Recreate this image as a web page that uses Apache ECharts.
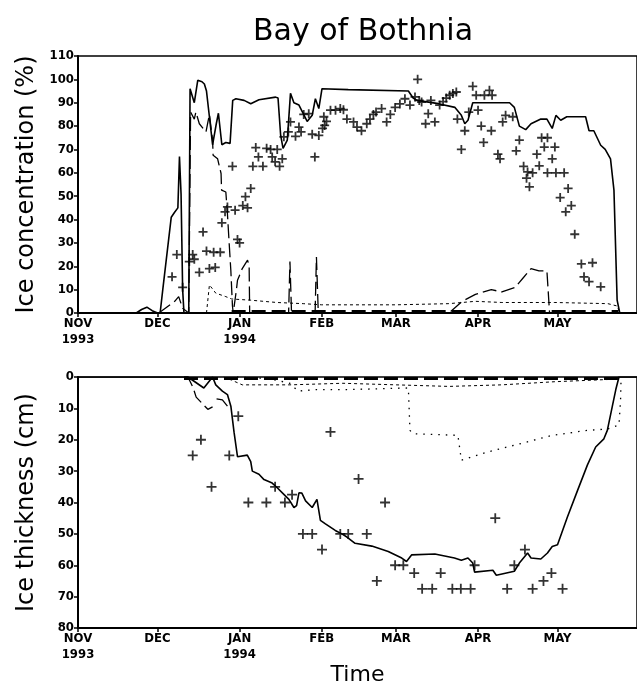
<!DOCTYPE html>
<html>
<head>
<meta charset="utf-8">
<script src="https://cdn.jsdelivr.net/npm/echarts@6/dist/echarts.min.js"></script>
<style>
  html, body { margin: 0; padding: 0; background: #fff; }
  #main { width: 637px; height: 687px; }
</style>
</head>
<body>
<div id="main"></div>
<script>
// x = days since 1 Nov 1993
var monthStarts = [0, 30, 61, 92, 120, 151, 181];
var monthLabels = ['NOV\n1993', 'DEC', 'JAN\n1994', 'FEB', 'MAR', 'APR', 'MAY'];
var concTicks = [0, 10, 20, 30, 40, 50, 60, 70, 80, 90, 100, 110];
var thickTicks = [0, 10, 20, 30, 40, 50, 60, 70, 80];

// ice concentration (%)
var concModel = [[0,0],[22,0],[24,1.5],[26,2.5],[28,1],[30,0],[31,0],[32,10],[35.2,41],[36.4,43],[37.7,45],[38.3,67],[38.9,51],[39.5,10],[40,0],[41.8,0],[42.3,96],[43.9,90],[45.2,99.6],[46.8,99],[47.7,98],[48.5,95],[49.3,87],[50,87],[50.8,72],[52.2,81],[53,85.5],[54.3,72],[55.8,73],[57.4,72.6],[58.4,91],[59.6,91.7],[62.7,91],[65.2,89.6],[68.3,91.3],[74.6,92.4],[75.5,92],[76.5,76],[77.4,70.5],[79,74],[80.2,94],[81.5,90],[83.4,89],[86.5,82],[88.4,84.6],[89.6,91.7],[90.9,87.5],[92.1,96],[102,95.6],[124.7,95],[126.5,92],[128,91],[136,89.6],[142.3,88],[144.7,84.6],[146,81],[147.2,82.5],[149,90],[162.9,90],[164.7,88],[166.6,80],[169,78.5],[171,81],[174.7,83],[177,83],[179,79],[180.4,84.6],[182.2,82.5],[184.5,84],[188.5,84],[191.6,84],[192.9,78],[194.7,78],[197.3,71.8],[199,70],[201,66],[202.3,52.6],[203.5,5.5],[204.5,0],[211,0]];
var concDash = [[30.5,0],[36.5,5],[38,7],[39.5,2],[41.8,0],[42.5,86],[43.9,83],[44.5,86],[45.8,81],[48.3,77.5],[49.6,85],[50.8,74],[51,67.5],[52.7,66],[54,59.7],[54.2,52.6],[55.8,51.8],[56.4,42.6],[57,31],[57.7,18],[58.3,3],[58.6,0],[59.8,10],[60.2,14],[62,19],[64,22.6],[64.6,20],[64.8,0],[79.5,0],[80,22],[80.6,0],[89.5,0],[90,24],[90.7,0],[140,0],[145,5],[150,8],[156,10],[160,9],[165,11],[168,15],[171,19],[174,18],[177,18],[178,0],[211,0]];
var concDotted = [[48.5,0],[49.6,12],[51,10],[52,8.5],[55.8,7],[58,6],[65,5.5],[75,4.5],[85,4],[92,3.5],[120,3.5],[140,4],[150,5],[160,4.5],[180,4.5],[200,4],[203.5,3],[204.5,0]];
var concFloor = [[58,0.6],[204,0.6]];
var concObs = [[35.5,15.5],[37.3,25],[39.5,11],[42,22],[43.3,25],[43.9,23],[45.8,17.4],[47.2,34.7],[48.5,26.5],[49.6,19],[51.2,26],[51.8,19.5],[53.7,26],[54.3,38.6],[55.5,43.3],[56.4,45.4],[58.3,62.8],[59.3,44],[60.2,31.5],[61,30],[62.2,46],[63.2,49.8],[64,45],[65.2,53.3],[66,62.8],[67.1,70.8],[68.1,66.8],[69.8,62.8],[71.2,70.5],[72.7,70],[73.3,66.8],[74.4,64.7],[75.2,70],[76.1,62.8],[77.1,66],[77.7,75.4],[79.4,77.5],[80.2,81.8],[82.1,75.6],[83.4,79.6],[84.2,77.5],[85.2,85],[87.1,85.3],[88.4,76.5],[89.4,66.8],[90.9,76],[92.3,79],[93.1,80.3],[92.8,84],[93.8,82],[95.3,86.8],[97.2,86.8],[99,87.5],[100.2,87],[101.5,83],[104,81.8],[105.3,79.6],[107,78],[109,81],[110.2,83],[111.5,85],[112.5,86],[114.6,87.5],[116.5,81.8],[117.9,85],[119.7,88],[121.5,89.5],[123.4,91.7],[125.3,89],[127.2,92.5],[128.2,100],[128.8,91],[129.7,90.3],[131.2,81],[132.2,85.3],[133.2,91],[134.7,81.8],[136.5,89],[137.8,90.5],[139,92],[140.3,93.2],[141.5,94],[142.8,94.6],[143.2,83],[144.7,70],[146,78],[147.5,86],[149,97],[150.3,93.2],[151,86.8],[152.2,80],[153.1,73],[153.4,93.2],[155.3,95.3],[156.3,93.2],[156,78],[158.5,68],[159.3,66],[160.3,81.8],[161.4,84.6],[164.1,84],[165.4,69.4],[166.6,74],[168.2,62.8],[169.3,57.7],[169.7,60.4],[170.4,54],[171.6,60],[173.2,68],[174.1,63],[175,75],[176,71],[177.2,75],[177.2,60],[179,66],[180,71],[180.4,60],[182,49.4],[183.5,60],[184.1,43.3],[185,53.3],[186.2,46],[187.5,33.7],[190,21],[191,15.5],[192.9,13.4],[194.2,21.5],[197.3,11.2]];

// ice thickness (cm)
var thickModel = [[0,0],[41.5,0],[47.5,3.5],[50.8,0],[52,2.5],[54.5,4.5],[56.4,5.6],[57.7,9.3],[58.9,17.6],[60.2,25.4],[63.9,24.9],[65.2,27],[65.8,30],[68.3,31],[70.2,32.7],[73.3,33.8],[75.2,35.3],[77.7,37.4],[79.6,39],[81.5,41.6],[82.5,41],[83.4,36.9],[84.5,37],[85.9,39.5],[88.4,41.6],[90.2,39],[91.5,45.7],[93.4,46.8],[97.1,48.9],[99.6,50],[101.5,51],[104.6,53],[110.9,53.9],[117.1,55.6],[122.2,57.7],[124,58.8],[125.9,56.7],[134.7,56.4],[142.1,57.7],[144.7,58.4],[147.2,57.7],[149,59.3],[149.7,62.2],[156.6,61.6],[157.9,63.2],[164.7,61.9],[166.6,59.3],[169.7,56.1],[171,57.7],[174.7,58],[177.2,56.1],[179,54],[181,53.5],[184.7,44.7],[188.5,36.3],[192.3,28],[195.4,22.3],[198.5,19.7],[199.8,17],[201.7,9.3],[203,4],[204.2,0],[211,0]];
var thickDash = [[40,0],[41.5,0],[43.5,3.5],[44.6,6.4],[49,10.3],[50.8,9.5],[51.6,'-'],[52.3,7],[54.5,7.3],[56.4,9.3]];
var thickDotted = [[60,0],[72,0.5],[80,2],[83,4.5],[90,4],[102,4],[124.7,3.5],[125.3,17],[126.5,18.1],[143.4,18.6],[144.7,26.5],[154.6,23.9],[167.2,21.2],[179,18.6],[192.3,17],[199.8,16.6],[204.2,15.3],[204.8,7.2],[205,0]];
var thickShort = [[55,0],[58,1],[62,2.5],[80,2.5],[100,2],[120,2.5],[140,3],[160,2.5],[180,1.5],[200,0.8],[204,0]];
var thickFloor = [[40,0.5],[204,0.5]];
var thickObs = [[43.3,25],[46.4,20],[50.4,35],[57.1,25],[60.5,12.5],[64.3,40],[71.1,40],[74.4,35],[78.1,40],[80.8,37.5],[84.9,50],[88.4,50],[92.1,55],[95.3,17.5],[99,50],[102,50],[105.9,32.5],[109,50],[112.8,65],[115.9,40],[119.7,60],[122.8,60],[126.9,62.5],[129.9,67.5],[133.7,67.5],[136.9,62.5],[141.3,67.5],[144.5,67.5],[148.2,67.5],[149.7,60],[157.5,45],[162,67.5],[164.7,60],[168.7,55],[171.6,67.5],[175.7,65],[178.7,62.5],[182.9,67.5]];

var labelFont = '"DejaVu Sans Condensed", "DejaVu Sans", sans-serif';
var nameFont = '"DejaVu Sans", sans-serif';
var cross = 'path://M0,5L10,5M5,0L5,10';

function xAxisFor(gi, name) {
  return {
    type: 'value', gridIndex: gi, min: 0, max: 211,
    name: name, nameLocation: 'middle', nameGap: 36,
    nameTextStyle: { fontFamily: nameFont, fontSize: 22, color: '#000' },
    axisLine: { onZero: false, lineStyle: { color: '#000', width: 2 } },
    axisTick: { customValues: monthStarts, length: 4, lineStyle: { color: '#000', width: 1.5 } },
    axisLabel: {
      customValues: monthStarts, color: '#000', fontFamily: labelFont, fontWeight: 'bold',
      fontSize: 13, lineHeight: 16, margin: 3,
      formatter: function (v) { return monthLabels[monthStarts.indexOf(v)]; }
    },
    splitLine: { show: false }
  };
}
function yAxisFor(gi, max, ticks, name, inverse) {
  return {
    type: 'value', gridIndex: gi, min: 0, max: max, interval: 10, inverse: inverse,
    name: name, nameLocation: 'middle', nameGap: 39,
    nameTextStyle: { fontFamily: nameFont, fontSize: 24, color: '#000' },
    axisLine: { show: true, lineStyle: { color: '#000', width: 2 } },
    axisTick: { show: true, length: 4, lineStyle: { color: '#000', width: 1.5 } },
    axisLabel: { color: '#000', fontFamily: labelFont, fontWeight: 'bold', fontSize: 13, margin: 4,
      formatter: function (v) { return ticks.indexOf(v) >= 0 ? String(v) : ''; } },
    splitLine: { show: false }
  };
}
function lineSeries(xi, data, width, type) {
  return {
    type: 'line', xAxisIndex: xi, yAxisIndex: xi, data: data, showSymbol: false,
    connectNulls: false, animation: false,
    lineStyle: { color: '#000', width: width, type: type }
  };
}
function obsSeries(xi, data, size) {
  return {
    type: 'scatter', xAxisIndex: xi, yAxisIndex: xi, data: data,
    symbol: cross, symbolSize: size, animation: false,
    itemStyle: { color: '#000', borderColor: '#000', borderWidth: 1.8 }
  };
}

var chart = echarts.init(document.getElementById('main'), null, { renderer: 'canvas' });
chart.setOption({
  backgroundColor: '#fff',
  animation: false,
  title: {
    text: 'Bay of Bothnia', left: 358, top: 12, textAlign: 'center',
    textStyle: { fontFamily: nameFont, fontWeight: 'normal', fontSize: 30, color: '#000' }
  },
  grid: [
    { left: 78, top: 56, right: -3, height: 257, show: true, borderColor: '#000', borderWidth: 1.5 },
    { left: 78, top: 377, right: -3, height: 256, show: true, borderColor: '#000', borderWidth: 1.5 }
  ],
  xAxis: [xAxisFor(0, ''), xAxisFor(1, 'Time')],
  yAxis: [
    yAxisFor(0, 110, concTicks, 'Ice concentration (%)', false),
    yAxisFor(1, 80, thickTicks, 'Ice thickness (cm)', true)
  ],
  series: [
    lineSeries(0, concModel, 1.6, 'solid'),
    lineSeries(0, concDash, 1.3, [14, 5]),
    lineSeries(0, concDotted, 1, [3, 3]),
    lineSeries(0, concFloor, 3, [14, 6]),
    obsSeries(0, concObs, 9),
    lineSeries(1, thickModel, 1.6, 'solid'),
    lineSeries(1, thickDash, 1.3, [14, 5]),
    lineSeries(1, thickDotted, 1.3, [1.5, 6]),
    lineSeries(1, thickShort, 1, [3, 3]),
    lineSeries(1, thickFloor, 3, [14, 6]),
    obsSeries(1, thickObs, 10)
  ]
});
</script>
</body>
</html>
